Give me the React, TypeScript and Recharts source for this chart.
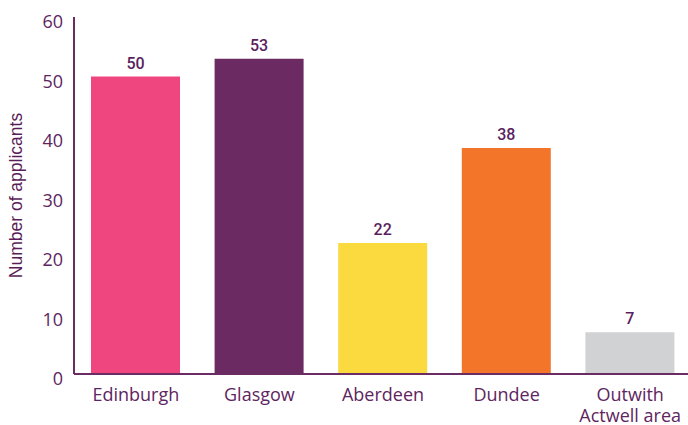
import React from 'react';
import { BarChart, Bar, XAxis, YAxis, Cell, LabelList, Label } from 'recharts';

const categories = ['Edinburgh', 'Glasgow', 'Aberdeen', 'Dundee', 'Outwith\nActwell area'];
const applicants = [50, 53, 22, 38, 7];
const barColors = ['#ef4680', '#6b2a62', '#fbda3f', '#f37529', '#d1d2d4'];
const yTicks = [0, 10, 20, 30, 40, 50, 60];

const data = categories.map((name, i) => ({ name, value: applicants[i] }));

const PURPLE = '#6b2c64';
const TEXT = '#5e2560';

const XTick = (props: any) => {
  const { x, y, payload } = props;
  const lines = String(payload.value).split('\n');
  return (
    <text
      x={x}
      y={y}
      textAnchor="middle"
      fill={TEXT}
      fontSize={18}
      fontWeight={500}
      fontFamily="'Open Sans', sans-serif"
    >
      {lines.map((l, i) => (
        <tspan key={i} x={x} dy={i === 0 ? 13 : 21}>
          {l}
        </tspan>
      ))}
    </text>
  );
};

export default function App() {
  return (
    <div
      style={{
        position: 'absolute',
        left: 0,
        top: 0,
        width: 688,
        height: 425,
        overflow: 'hidden',
        background: '#fff',
      }}
    >
      <BarChart
        width={700}
        height={425}
        data={data}
        margin={{ top: 17, right: 8, left: 0, bottom: 0 }}
      >
        <XAxis
          dataKey="name"
          height={51}
          interval={0}
          axisLine={{ stroke: PURPLE, strokeWidth: 2 }}
          tickLine={false}
          tickSize={0}
          tickMargin={14}
          tick={<XTick />}
        />
        <YAxis
          width={74}
          domain={[0, 60]}
          ticks={yTicks}
          axisLine={{ stroke: PURPLE, strokeWidth: 2 }}
          tickLine={false}
          tickSize={0}
          tickMargin={11}
          tick={{ fill: TEXT, fontSize: 18, dy: 5, fontFamily: "'Open Sans', sans-serif" }}
        >
          <Label
            value="Number of applicants"
            angle={-90}
            position="insideLeft"
            offset={16}
            style={{ textAnchor: 'middle', fill: '#5a1d58', fontSize: 17.5, fontFamily: "'Liberation Sans', Arial, sans-serif" }}
          />
        </YAxis>
        <Bar dataKey="value" barSize={89} isAnimationActive={false}>
          {data.map((d, i) => (
            <Cell key={d.name} fill={barColors[i]} />
          ))}
          <LabelList
            dataKey="value"
            position="top"
            offset={8}
            fill="#5a1f5e"
            fontSize={16}
            fontWeight={500}
            fontFamily="Roboto, sans-serif"
          />
        </Bar>
      </BarChart>
    </div>
  );
}
